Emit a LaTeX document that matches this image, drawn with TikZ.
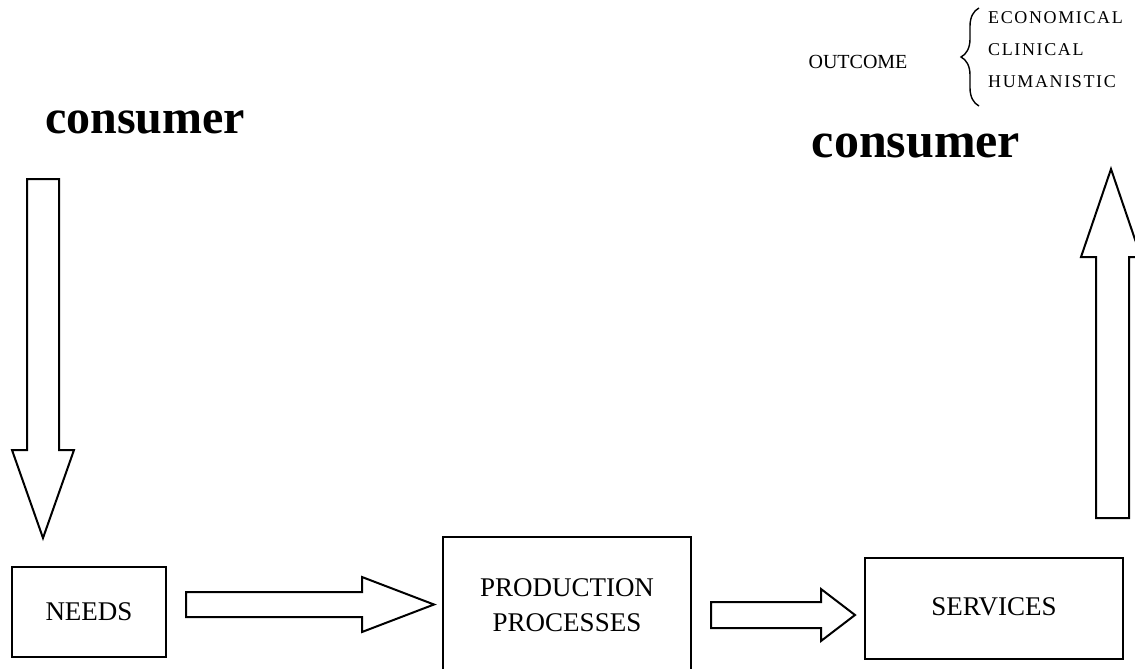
\documentclass[tikz,border=0pt]{standalone}
\usepackage{fontspec}
\setmainfont{Liberation Serif}
\newfontfamily\spacedfont[LetterSpace=9]{Liberation Serif}
\usetikzlibrary{decorations.pathreplacing}
\tikzset{
  blockarrow/.style={draw=black, line width=2pt, fill=white, line join=miter},
  boxnode/.style={draw=black, line width=2pt, inner sep=0pt},
  boxtext/.style={font=\fontsize{27}{34}\selectfont, align=center, inner sep=0pt},
  bigword/.style={font=\bfseries, inner sep=0pt},
  listword/.style={font=\spacedfont\fontsize{18}{21}\selectfont, anchor=west, inner sep=0pt},
}
\begin{document}
\begin{tikzpicture}[x=1pt,y=-1pt]
\useasboundingbox (0,0) rectangle (1135,669);
\begin{scope}
\clip (0,0) rectangle (1135,669);
% boxes
\node[boxnode, minimum width=154pt, minimum height=90pt] (needs) at (89,612) {};
\node[boxnode, minimum width=248pt, minimum height=150pt] (prod) at (567,612) {};
\node[boxnode, minimum width=258pt, minimum height=101pt] (serv) at (994,608.5) {};
% block arrows
\draw[blockarrow] (27,179) -- (59,179) -- (59,450) -- (74,450) -- (43,538) -- (12,450) -- (27,450) -- cycle;
\draw[blockarrow] (186,592) -- (362,592) -- (362,577) -- (434,604.5) -- (362,632) -- (362,617) -- (186,617) -- cycle;
\draw[blockarrow] (711,602) -- (821,602) -- (821,589) -- (855,615) -- (821,641) -- (821,628) -- (711,628) -- cycle;
\draw[blockarrow] (1096,518) -- (1129,518) -- (1129,257) -- (1141,257) -- (1111,169) -- (1081,257) -- (1096,257) -- cycle;
\end{scope}
% box texts
\node[boxtext] (needstext) at (needs.center) {NEEDS};
\node[boxtext] (prodtext1) at (567,588) {PRODUCTION};
\node[boxtext] (prodtext2) at (567,623) {PROCESSES};
\node[boxtext] (servtext) at (994,607) {SERVICES};
% texts
\node[bigword, font=\fontsize{48}{56}\selectfont\bfseries] (cons1) at (145,122) {consumer};
\node[bigword, font=\fontsize{50}{58}\selectfont\bfseries] (cons2) at (916,146) {consumer};
\node[font=\fontsize{20}{24}\selectfont, inner sep=0pt] (outcome) at (858,62) {OUTCOME};
\node[listword] (eco) at (988,18) {ECONOMICAL};
\node[listword] (cli) at (988,50) {CLINICAL};
\node[listword] (hum) at (988,82) {HUMANISTIC};
\coordinate (brb) at (979,106);
\coordinate (brt) at (979,8);
\draw[line width=1.4pt, decorate, decoration={brace, amplitude=18pt}] (brb) -- (brt);
\end{tikzpicture}
\end{document}
